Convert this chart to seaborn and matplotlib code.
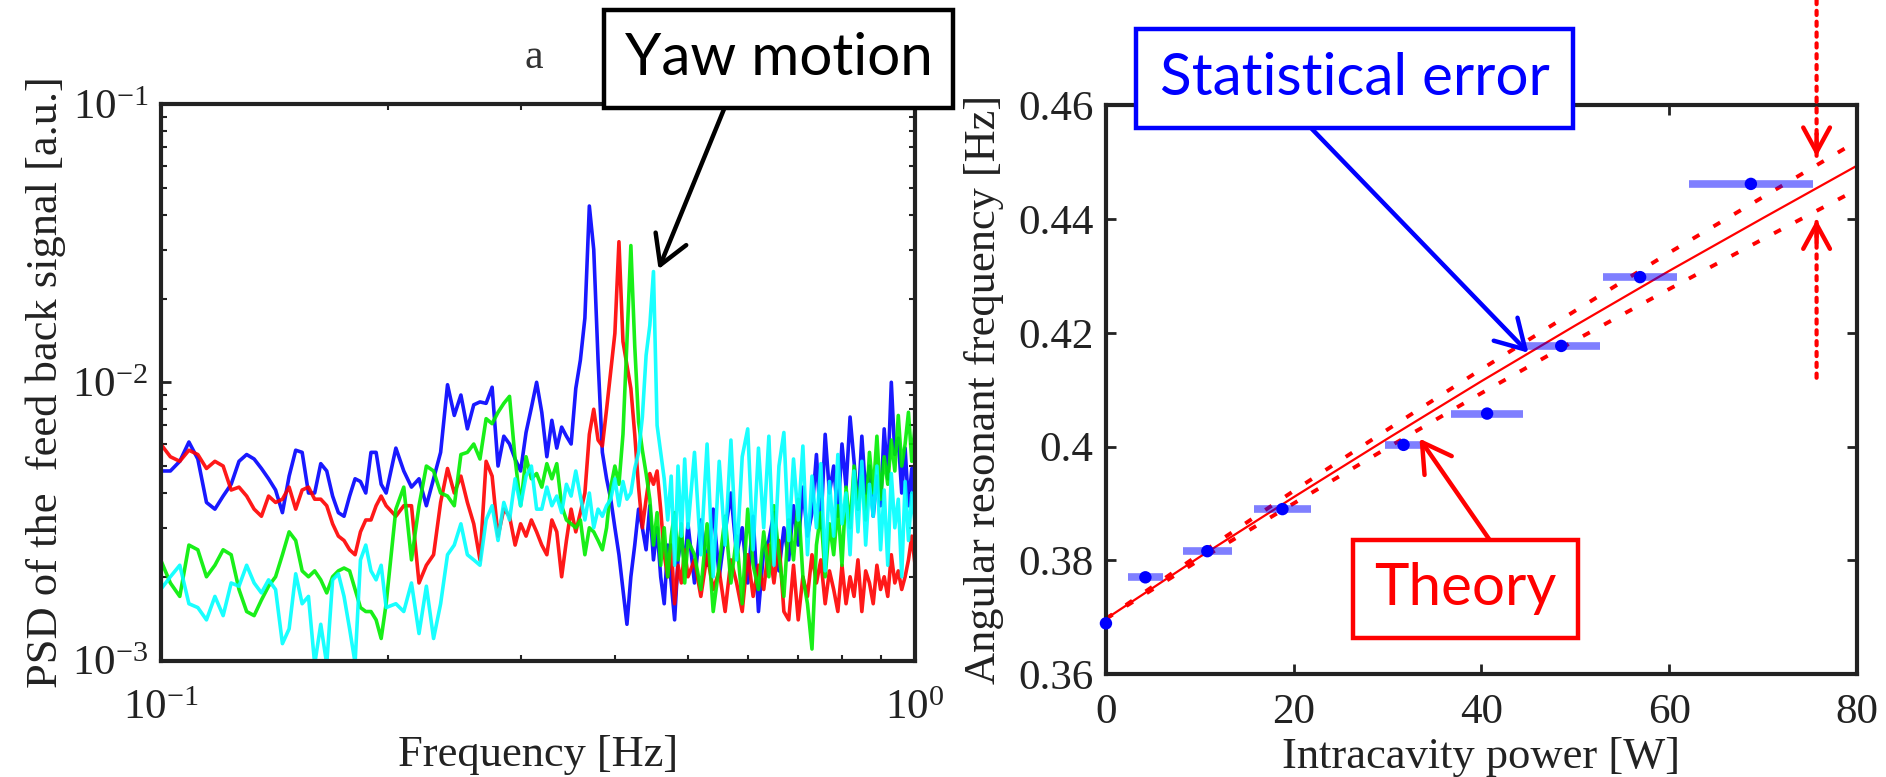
# -*- coding: utf-8 -*-
"""
Two-panel figure: PSD of the feedback signal (yaw motion peaks) and
angular resonant frequency versus intracavity power with theory band.
"""
from __future__ import annotations

import matplotlib
matplotlib.use("Agg")
import matplotlib.pyplot as plt
import matplotlib.ticker as mticker
import pandas as pd
import seaborn as sns
from matplotlib.patches import Rectangle


# ---------------------------------------------------------------- data, panel a
# frequency bins [Hz]
FREQ_HZ = [
    0.100, 0.103, 0.106, 0.109, 0.112, 0.115, 0.118, 0.121, 0.124, 0.127,
    0.130, 0.133, 0.136, 0.139, 0.142, 0.145, 0.148, 0.151, 0.154, 0.157,
    0.160, 0.163, 0.166, 0.169, 0.172, 0.175, 0.178, 0.181, 0.184, 0.187,
    0.190, 0.193, 0.196, 0.199,
    0.205, 0.210, 0.215, 0.220, 0.225, 0.230, 0.235, 0.240, 0.245, 0.250,
    0.255, 0.260, 0.265, 0.270, 0.275, 0.280, 0.285, 0.290, 0.295, 0.300,
    0.305, 0.310, 0.315, 0.320, 0.325, 0.330, 0.335, 0.340, 0.345, 0.350,
    0.355, 0.360, 0.365, 0.370, 0.375, 0.380, 0.385, 0.390, 0.395, 0.400,
    0.405, 0.410, 0.415, 0.420, 0.425, 0.430, 0.435, 0.440, 0.445, 0.450,
    0.455, 0.460, 0.465, 0.470, 0.475, 0.480, 0.485, 0.490, 0.495, 0.500,
    0.51, 0.52, 0.53, 0.54, 0.55, 0.56, 0.57, 0.58, 0.59, 0.60,
    0.61, 0.62, 0.63, 0.64, 0.65, 0.66, 0.67, 0.68, 0.69, 0.70,
    0.71, 0.72, 0.73, 0.74, 0.75, 0.76, 0.77, 0.78, 0.79, 0.80,
    0.81, 0.82, 0.83, 0.84, 0.85, 0.86, 0.87, 0.88, 0.89, 0.90,
    0.91, 0.92, 0.93, 0.94, 0.95, 0.96, 0.97, 0.98, 0.99, 1.00,
]

# PSD values in units of 1e-3 a.u.
PSD_BLUE = [
    4.8, 4.8, 5.2, 6.1, 5.3, 3.7, 3.5, 3.9, 4.3, 5.2,
    5.5, 5.3, 4.9, 4.5, 4.1, 3.4, 4.6, 5.7, 5.6, 4.0,
    4.0, 5.1, 4.8, 3.9, 3.4, 3.3, 3.9, 4.5, 4.4, 4.0,
    5.6, 5.6, 4.3, 4.0,
    5.8, 4.8, 4.2, 4.5, 3.6, 4.5, 5.6, 9.8, 7.6, 9.0,
    6.8, 8.3, 8.5, 8.4, 9.6, 5.0, 6.4, 6.0, 5.3, 4.8,
    6.6, 8.1, 10.0, 7.8, 5.4, 7.3, 5.8, 6.9, 6.4, 6.0,
    9.5, 12.0, 17.0, 43.0, 30.0, 12.0, 5.6, 4.5, 3.8, 3.0,
    2.4, 1.8, 1.35, 2.0, 2.6, 3.5, 3.0, 2.5, 3.6, 2.3,
    3.0, 2.0, 1.6, 2.6, 1.9, 1.4, 2.3, 2.8, 2.2, 3.1,
    1.9, 3.2, 2.2, 3.5, 2.0, 2.9, 4.0, 2.4, 3.0, 1.9,
    3.3, 1.5, 2.5, 2.7, 3.4, 2.1, 3.0, 2.3, 3.6, 2.6,
    4.2, 2.8, 3.4, 5.5, 3.0, 6.5, 4.0, 5.0, 3.3, 6.0,
    4.2, 7.5, 5.2, 3.5, 6.4, 4.0, 5.0, 3.3, 4.6, 3.6,
    6.8, 4.5, 10.0, 5.5, 6.3, 4.0, 5.8, 3.6, 4.9, 3.5,
]
PSD_RED = [
    6.0, 5.4, 5.2, 5.7, 5.5, 4.9, 5.2, 5.0, 4.1, 4.2,
    3.9, 3.5, 3.3, 3.9, 3.7, 3.8, 4.2, 3.5, 4.1, 4.2,
    3.8, 3.8, 3.6, 3.1, 2.8, 2.7, 2.5, 2.4, 2.9, 3.2,
    3.2, 3.6, 3.9, 3.6,
    3.3, 3.6, 3.6, 1.9, 2.2, 2.4, 3.7, 4.9, 4.0, 4.6,
    3.7, 3.1, 2.3, 5.2, 4.6, 2.8, 3.5, 3.3, 2.6, 3.1,
    2.8, 3.2, 2.9, 2.6, 2.4, 3.2, 2.9, 2.0, 2.7, 3.5,
    2.9, 3.4, 4.0, 6.5, 8.0, 6.2, 5.9, 8.0, 11.0, 15.0,
    32.0, 14.0, 11.5, 9.5, 6.5, 4.2, 3.0, 3.8, 4.7, 4.3,
    4.8, 3.5, 2.4, 2.0, 2.6, 1.6, 2.2, 1.9, 2.5, 2.0,
    2.3, 1.7, 2.4, 1.8, 2.1, 1.5, 2.3, 1.9, 1.5, 2.4,
    1.7, 2.2, 1.8, 2.6, 1.9, 2.7, 1.5, 1.4, 2.2, 1.4,
    2.0, 1.7, 2.4, 1.9, 2.3, 1.6, 2.1, 1.8, 1.5, 2.2,
    1.6, 2.0, 1.7, 2.3, 1.5, 2.1, 1.9, 1.6, 2.2, 1.8,
    2.0, 1.7, 2.4, 1.9, 2.1, 1.8, 2.0, 2.3, 2.8, 2.2,
]
PSD_GREEN = [
    2.3, 1.9, 1.7, 2.6, 2.5, 2.0, 2.2, 2.5, 2.4, 1.8,
    1.5, 1.45, 1.65, 1.85, 2.0, 2.4, 2.9, 2.7, 2.1, 2.0,
    2.1, 1.95, 1.75, 2.0, 2.1, 2.15, 2.1, 1.8, 1.55, 1.5,
    1.5, 1.4, 1.2, 1.6,
    3.5, 4.2, 2.3, 3.6, 5.0, 4.8, 4.0, 3.9, 3.6, 5.5,
    5.6, 6.0, 5.3, 7.4, 7.1, 7.8, 8.4, 8.9, 5.3, 3.6,
    5.4, 4.5, 4.7, 4.2, 5.1, 4.5, 5.1, 3.6, 3.2, 3.1,
    3.0, 3.2, 2.4, 3.0, 2.9, 2.7, 2.5, 3.0, 4.2, 5.0,
    4.3, 6.5, 14.0, 31.0, 13.5, 7.2, 5.7, 4.7, 3.8, 2.6,
    3.4, 2.2, 3.0, 2.0, 2.8, 3.4, 2.3, 3.1, 1.9, 2.7,
    2.4, 1.8, 3.1, 1.5, 2.2, 3.3, 1.9, 2.8, 1.6, 3.5,
    2.2, 1.8, 2.9, 2.0, 3.6, 2.4, 1.7, 3.2, 2.3, 3.8,
    2.0, 1.6, 1.1, 2.6, 3.4, 2.0, 3.1, 2.4, 3.6, 2.2,
    4.2, 3.0, 5.0, 3.5, 4.6, 3.2, 5.6, 4.0, 6.4, 3.8,
    5.4, 4.3, 6.2, 4.8, 7.6, 5.0, 6.0, 7.8, 5.2, 7.0,
]
PSD_CYAN = [
    1.8, 2.0, 2.2, 1.6, 1.55, 1.4, 1.7, 1.45, 1.9, 1.85,
    2.2, 1.9, 1.75, 1.95, 1.8, 1.15, 1.3, 2.05, 1.6, 1.7,
    0.97, 1.35, 0.97, 1.95, 2.05, 1.7, 1.3, 0.98, 2.3, 2.6,
    2.1, 1.95, 2.2, 1.55,
    1.6, 1.5, 1.9, 1.25, 1.85, 1.2, 1.6, 2.4, 2.6, 3.1,
    2.4, 2.3, 2.2, 3.2, 3.6, 2.7, 3.7, 3.2, 4.5, 3.6,
    4.6, 5.0, 3.5, 3.5, 4.2, 3.6, 3.9, 3.4, 4.3, 3.9,
    4.8, 3.9, 3.2, 4.0, 3.0, 3.5, 3.3, 3.6, 3.8, 4.5,
    3.6, 4.4, 3.8, 4.0, 4.9, 5.6, 7.5, 12.5, 16.0, 25.0,
    7.0, 5.6, 4.5, 3.2, 4.6, 2.2, 5.0, 2.8, 5.3, 3.0,
    5.6, 2.4, 6.0, 2.0, 5.2, 2.6, 6.2, 2.3, 5.4, 6.8,
    2.5, 5.8, 3.0, 6.4, 2.2, 5.0, 6.6, 2.7, 5.3, 3.2,
    5.9, 2.4, 4.6, 3.0, 5.1, 2.1, 4.4, 2.8, 5.5, 3.1,
    4.0, 2.4, 4.8, 2.9, 5.2, 2.6, 4.3, 3.3, 5.0, 2.5,
    4.1, 2.2, 4.7, 3.0, 3.8, 2.0, 4.4, 2.7, 4.0, 3.1,
]
PSD_UNIT = 1e-3

# ---------------------------------------------------------------- data, panel b
POWER_W = [0.0, 4.2, 10.8, 18.8, 31.7, 40.6, 48.5, 56.9, 68.7]
POWER_ERR_W = [0.0, 1.9, 2.6, 3.0, 2.0, 3.8, 4.1, 3.9, 6.6]
RESONANCE_HZ = [0.3689, 0.3770, 0.3816, 0.3890, 0.4003, 0.4058, 0.4177, 0.4298, 0.4462]

THEORY_POWER_W = [0, 10, 20, 30, 40, 50, 60, 70, 80]
THEORY_HZ = [0.3697, 0.3806, 0.3911, 0.4014, 0.4115, 0.4213, 0.4309, 0.4402, 0.4494]
THEORY_UPPER_HZ = [0.3697, 0.3811, 0.3922, 0.4030, 0.4136, 0.4239, 0.4341, 0.4439, 0.4537]
THEORY_LOWER_HZ = [0.3697, 0.3801, 0.3900, 0.3998, 0.4094, 0.4187, 0.4277, 0.4365, 0.4452]

MARK_POWER_W = 75.7
MARK_TOP_HZ = 0.4510
MARK_BOTTOM_HZ = 0.4399
MARK_BOTTOM_TAIL_HZ = 0.4121

BLUE, RED, GREEN, CYAN = "#0000ff", "#ff0000", "#00ee00", "#00ffff"
ANNOT_FONT = ["Lato", "DejaVu Sans"]


def set_style() -> None:
    sns.set_theme(style="ticks")
    plt.rcParams.update({
        "font.family": ["Liberation Serif", "DejaVu Serif"],
        "mathtext.fontset": "stix",
        "axes.linewidth": 3.0,
        "axes.edgecolor": "#222222",
        "xtick.direction": "in",
        "ytick.direction": "in",
        "xtick.top": True,
        "ytick.right": True,
        "xtick.major.size": 7,
        "ytick.major.size": 7,
        "xtick.minor.size": 4,
        "ytick.minor.size": 4,
        "xtick.major.width": 2,
        "ytick.major.width": 2,
        "xtick.minor.width": 1.5,
        "ytick.minor.width": 1.5,
        "xtick.color": "#222222",
        "ytick.color": "#222222",
        "xtick.labelsize": 31,
        "ytick.labelsize": 31,
        "xtick.major.pad": 14,
        "ytick.major.pad": 9,
        "axes.labelsize": 32,
        "axes.labelcolor": "#222222",
    })


def draw_spectra(ax: plt.Axes) -> None:
    ax.set_xscale("log")
    ax.set_yscale("log")
    df = pd.DataFrame({
        "freq": FREQ_HZ,
        "blue": PSD_BLUE,
        "red": PSD_RED,
        "green": PSD_GREEN,
        "cyan": PSD_CYAN,
    })
    for col, color in (("blue", BLUE), ("red", RED), ("green", GREEN), ("cyan", CYAN)):
        sns.lineplot(x=df["freq"], y=df[col] * PSD_UNIT, ax=ax, color=color,
                     lw=2.6, estimator=None, sort=False, alpha=0.9)
    ax.set_xlim(0.1, 1.0)
    ax.set_ylim(1e-3, 1e-1)
    ax.xaxis.set_minor_formatter(mticker.NullFormatter())
    ax.yaxis.set_minor_formatter(mticker.NullFormatter())
    ax.tick_params(which="both", top=True, right=True)
    ax.tick_params(axis="x", which="major", pad=21)
    ax.set_xlabel("Frequency [Hz]")
    ax.xaxis.set_label_coords(0.5, -0.134)
    ax.set_ylabel("PSD of the  feed back signal [a.u.]", labelpad=4)
    ax.text(0.494, 1.083, "a", transform=ax.transAxes, ha="center", va="center",
            fontsize=30, color="#333333")


def draw_resonance(ax: plt.Axes) -> None:
    sns.lineplot(x=THEORY_POWER_W, y=THEORY_HZ, ax=ax, color=RED, lw=1.6)
    for band in (THEORY_UPPER_HZ, THEORY_LOWER_HZ):
        sns.lineplot(x=THEORY_POWER_W, y=band, ax=ax, color=RED, lw=2.8,
                     linestyle=(0, (2.0, 4.2)))
    ax.errorbar(POWER_W, RESONANCE_HZ, xerr=POWER_ERR_W, fmt="none",
                ecolor=(0, 0, 1, 0.5), elinewidth=5.5, capsize=0)
    sns.scatterplot(x=POWER_W, y=RESONANCE_HZ, ax=ax, color=BLUE, s=80,
                    edgecolor="none", clip_on=False, zorder=5)
    ax.set_xlim(0, 80)
    ax.set_ylim(0.36, 0.46)
    ax.set_xticks([0, 20, 40, 60, 80])
    ax.set_yticks([0.36, 0.38, 0.40, 0.42, 0.44, 0.46])
    ax.yaxis.set_major_formatter(plt.FuncFormatter(lambda v, _: f"{v:g}"))
    ax.set_xlabel("Intracavity power [W]")
    ax.xaxis.set_label_coords(0.5, -0.110)
    ax.set_ylabel("Angular resonant frequency [Hz]", labelpad=10)

    # red dotted markers pointing at the band width
    for tail, tail_coords, tip in (
        (1.0, ("data", "figure fraction"), MARK_TOP_HZ),
        (MARK_BOTTOM_TAIL_HZ, "data", MARK_BOTTOM_HZ),
    ):
        ax.annotate("", xy=(MARK_POWER_W, tip), xytext=(MARK_POWER_W, tail),
                    textcoords=tail_coords,
                    arrowprops=dict(arrowstyle="-", color=RED, lw=3,
                                    linestyle=(0, (1, 1.6)), shrinkA=0, shrinkB=0))
        sign = 1 if tip > 0.445 else -1
        ax.annotate("", xy=(MARK_POWER_W, tip), xytext=(MARK_POWER_W, tip + sign * 0.004),
                    arrowprops=dict(arrowstyle="->, head_length=0.55, head_width=0.3",
                                    color=RED, lw=3.2, mutation_scale=32,
                                    shrinkA=0, shrinkB=0))


def add_label_box(fig, rect, center, text, color) -> None:
    fig.patches.append(Rectangle(rect[:2], rect[2], rect[3], transform=fig.transFigure,
                                 facecolor="white", edgecolor=color, lw=3.2, zorder=4))
    fig.text(center[0], center[1], text, color=color, ha="center", va="center",
             fontsize=42, family=ANNOT_FONT, zorder=5)


def build_figure() -> plt.Figure:
    fig = plt.figure(figsize=(18.86, 7.77), dpi=100)
    ax_psd = fig.add_axes([0.0852, 0.1499, 0.4000, 0.7162])
    ax_res = fig.add_axes([0.5864, 0.1326, 0.3982, 0.7317])
    draw_spectra(ax_psd)
    draw_resonance(ax_res)

    arrow = dict(arrowstyle="->, head_length=0.6, head_width=0.35", lw=3.2,
                 mutation_scale=34, shrinkA=0, shrinkB=0)
    ax_psd.annotate("", xy=(0.457, 0.0255), xytext=(0.3839, 0.8597),
                    textcoords="figure fraction", arrowprops=dict(arrow, color="black"))
    ax_res.annotate("", xy=(45.0, 0.4165), xytext=(0.6951, 0.8353),
                    textcoords="figure fraction", arrowprops=dict(arrow, color=BLUE))
    ax_res.annotate("", xy=(33.4, 0.4014), xytext=(0.7895, 0.3063),
                    textcoords="figure fraction", arrowprops=dict(arrow, color=RED))

    add_label_box(fig, (0.3203, 0.8610, 0.1850, 0.1261), (0.4128, 0.9241), "Yaw motion", "black")
    add_label_box(fig, (0.6023, 0.8353, 0.2317, 0.1278), (0.7182, 0.8991), "Statistical error", BLUE)
    add_label_box(fig, (0.7174, 0.1789, 0.1193, 0.1261), (0.7770, 0.2420), "Theory", RED)
    return fig


def main() -> None:
    set_style()
    fig = build_figure()
    fig.savefig("out.png", dpi=100, facecolor="white")


if __name__ == "__main__":
    main()
